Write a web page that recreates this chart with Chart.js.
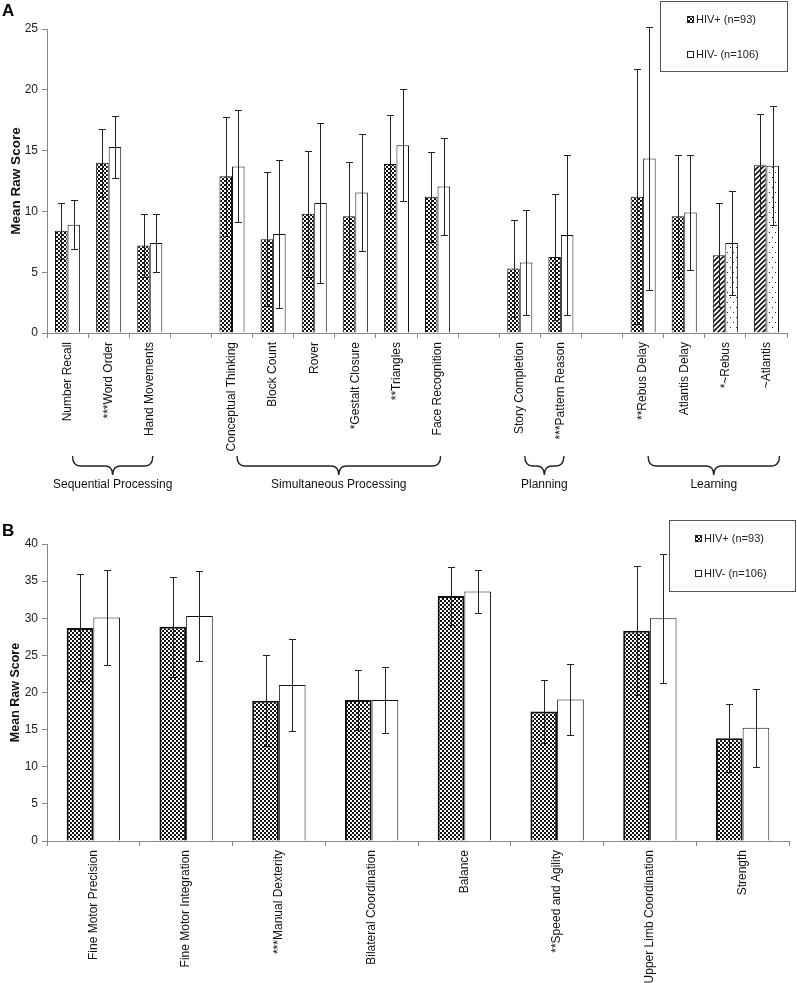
<!DOCTYPE html>
<html>
<head>
<meta charset="utf-8">
<script src="https://cdn.jsdelivr.net/npm/chart.js@4.4.0/dist/chart.umd.min.js"></script>
<style>
    html, body { margin: 0; padding: 0; background: #fff; }
    .panel { position: absolute; left: 0; width: 797px; }
    #wrap-a { top: 0; height: 500px; }
    #wrap-b { top: 500px; height: 483px; }
</style>
</head>
<body>
<div id="wrap-a" class="panel"><canvas id="chart-a" width="797" height="500"></canvas></div>
<div id="wrap-b" class="panel"><canvas id="chart-b" width="797" height="483"></canvas></div>
<script>
// ── Data: panel A (KABC subtests, empty labels are group gaps) ──
const catsA = ['Number Recall', '***Word Order', 'Hand Movements', '',
    'Conceptual Thinking', 'Block Count', 'Rover', '*Gestalt Closure', '**Triangles', 'Face Recognition', '',
    'Story Completion', '***Pattern Reason', '',
    '**Rebus Delay', 'Atlantis Delay', '*~Rebus', '~Atlantis'];
const posA   = [8.4, 14.0, 7.2, null, 12.9, 7.7, 9.8, 9.6, 13.9, 11.2, null, 5.3, 6.25, null, 11.2, 9.6, 6.4, 13.8];
const posSdA = [2.3, 2.8, 2.6, null, 4.9, 5.5, 5.2, 4.5, 4.0, 3.7, null, 4.0, 5.2, null, 10.5, 5.0, 4.25, 4.2];
const negA   = [8.9, 15.3, 7.4, null, 13.7, 8.15, 10.7, 11.55, 15.45, 12.05, null, 5.8, 8.05, null, 14.35, 9.9, 7.4, 13.75];
const negSdA = [2.0, 2.55, 2.4, null, 4.6, 6.1, 6.6, 4.8, 4.6, 3.95, null, 4.3, 6.55, null, 10.8, 4.75, 4.3, 4.9];
const ticksA = [0, 5, 10, 15, 20, 25];

const groupNames = ['Sequential Processing', 'Simultaneous Processing', 'Planning', 'Learning'];
const groupFirst = ['Number Recall', 'Conceptual Thinking', 'Story Completion', '**Rebus Delay'];
const groupLast  = ['Hand Movements', 'Face Recognition', '***Pattern Reason', '~Atlantis'];

// ── Data: panel B (BOT-2 subtests) ──
const catsB = ['Fine Motor Precision', 'Fine Motor Integration', '***Manual Dexterity', 'Bilateral Coordination',
    'Balance', '**Speed and Agility', 'Upper Limb Coordination', 'Strength'];
const posB   = [28.7, 28.85, 18.9, 19.0, 33.0, 17.45, 28.3, 13.85];
const posSdB = [7.2, 6.7, 6.1, 4.0, 3.9, 4.25, 8.7, 4.6];
const negB   = [30.1, 30.3, 21.0, 19.0, 33.6, 19.05, 30.0, 15.25];
const negSdB = [6.4, 6.1, 6.2, 4.4, 2.95, 4.8, 8.7, 5.25];
const ticksB = [0, 5, 10, 15, 20, 25, 30, 35, 40];

const seriesNames = ['HIV+ (n=93)', 'HIV- (n=106)'];

const FONT = "'Liberation Sans', Arial, sans-serif";

// ── Fill patterns ──
function tile(w, h, paint) {
    const c = document.createElement('canvas');
    c.width = w; c.height = h;
    const g = c.getContext('2d');
    g.fillStyle = '#fff';
    g.fillRect(0, 0, w, h);
    paint(g);
    return g.createPattern(c, 'repeat');
}
const checker = tile(4, 4, g => {
    g.fillStyle = '#111';
    g.fillRect(0, 0, 2, 2);
    g.fillRect(2, 2, 2, 2);
});
const hatch = tile(5, 5, g => {
    g.strokeStyle = '#111';
    g.lineWidth = 1.6;
    g.beginPath();
    g.moveTo(-1, 6); g.lineTo(6, -1);
    g.moveTo(-1, 1); g.lineTo(1, -1);
    g.moveTo(4, 6); g.lineTo(6, 4);
    g.stroke();
});
const dots = tile(6, 10, g => {
    g.fillStyle = '#222';
    g.fillRect(1, 2, 1, 1);
    g.fillRect(4, 7, 1, 1);
});

// ── Plugins ──
const errorBars = {
    id: 'errorBars',
    afterDatasetsDraw(chart, args, opts) {
        const ctx = chart.ctx;
        const y = chart.scales.y;
        ctx.save();
        ctx.strokeStyle = opts.color;
        ctx.lineWidth = 1;
        chart.data.datasets.forEach((ds, di) => {
            chart.getDatasetMeta(di).data.forEach((bar, i) => {
                const v = ds.data[i], e = ds.errors[i];
                if (v == null || e == null) return;
                const x = Math.round(bar.x) + 0.5;
                const yt = Math.round(y.getPixelForValue(v + e)) + 0.5;
                const yb = Math.round(y.getPixelForValue(v - e)) + 0.5;
                ctx.beginPath();
                ctx.moveTo(x, yt); ctx.lineTo(x, yb);
                ctx.moveTo(x - opts.cap, yt); ctx.lineTo(x + opts.cap, yt);
                ctx.moveTo(x - opts.cap, yb); ctx.lineTo(x + opts.cap, yb);
                ctx.stroke();
            });
        });
        ctx.restore();
    }
};

const boxLegend = {
    id: 'boxLegend',
    afterDraw(chart, args, o) {
        const ctx = chart.ctx;
        ctx.save();
        ctx.strokeStyle = '#555';
        ctx.lineWidth = 1;
        ctx.strokeRect(o.x + 0.5, o.y + 0.5, o.w, o.h);
        ctx.font = '11px ' + FONT;
        ctx.textBaseline = 'middle';
        chart.data.datasets.forEach((ds, i) => {
            const cy = o.y + o.rows[i];
            ctx.fillStyle = i === 0 ? checker : '#fff';
            ctx.fillRect(o.swatchX, cy - 3, 7, 7);
            ctx.strokeStyle = '#222';
            ctx.strokeRect(o.swatchX + 0.5, cy - 2.5, 6, 6);
            ctx.fillStyle = '#222';
            ctx.fillText(ds.label, o.swatchX + 9, cy + 1);
        });
        ctx.restore();
    }
};

const panelLetter = {
    id: 'panelLetter',
    afterDraw(chart, args, o) {
        const ctx = chart.ctx;
        ctx.save();
        ctx.font = 'bold 17px ' + FONT;
        ctx.fillStyle = '#000';
        ctx.textBaseline = 'alphabetic';
        ctx.fillText(o.text, 2, o.y);
        ctx.restore();
    }
};

const braces = {
    id: 'braces',
    afterDraw(chart, args, o) {
        if (!o.names) return;
        const ctx = chart.ctx;
        const x = chart.scales.x;
        ctx.save();
        ctx.strokeStyle = '#222';
        ctx.lineWidth = 1.4;
        ctx.font = '12px ' + FONT;
        ctx.fillStyle = '#111';
        ctx.textAlign = 'center';
        ctx.textBaseline = 'middle';
        o.names.forEach((name, i) => {
            const x1 = x.getPixelForValue(o.first[i]) + 5;
            const x2 = x.getPixelForValue(o.last[i]) + (i === o.names.length - 1 ? 13 : 3);
            const xm = (x1 + x2) / 2;
            const top = o.top, mid = o.top + 10, tip = o.top + 19, r = 8;
            ctx.beginPath();
            ctx.moveTo(x1, top);
            ctx.quadraticCurveTo(x1, mid, x1 + r, mid);
            ctx.lineTo(xm - r, mid);
            ctx.quadraticCurveTo(xm, mid, xm, tip);
            ctx.quadraticCurveTo(xm, mid, xm + r, mid);
            ctx.lineTo(x2 - r, mid);
            ctx.quadraticCurveTo(x2, mid, x2, top);
            ctx.stroke();
            ctx.fillText(name, xm, o.textY);
        });
        ctx.restore();
    }
};

// ── Chart builder ──
function buildChart(canvasId, cfg) {
    const hatchIdx = cfg.labels.map(l => l.includes('~'));
    return new Chart(document.getElementById(canvasId), {
        type: 'bar',
        data: {
            labels: cfg.labels,
            datasets: [{
                label: seriesNames[0],
                data: cfg.pos,
                errors: cfg.posSd,
                backgroundColor: hatchIdx.map(h => h ? hatch : checker),
                borderColor: '#111',
                borderWidth: cfg.posBorder,
            }, {
                label: seriesNames[1],
                data: cfg.neg,
                errors: cfg.negSd,
                backgroundColor: hatchIdx.map(h => h ? dots : '#fff'),
                borderColor: '#111',
                borderWidth: 1,
            }],
        },
        options: {
            responsive: false,
            animation: false,
            events: [],
            devicePixelRatio: 1,
            categoryPercentage: cfg.catPct,
            barPercentage: 1,
            layout: { padding: { top: cfg.padTop, right: cfg.padRight, left: 0, bottom: 0 } },
            plugins: {
                legend: { display: false },
                tooltip: { enabled: false },
                errorBars: { color: '#222', cap: 3.5 },
                boxLegend: cfg.legend,
                panelLetter: cfg.letter,
                braces: cfg.braces || {},
            },
            scales: {
                x: {
                    grid: { offset: true, drawOnChartArea: false, tickLength: 5, color: '#888' },
                    border: { color: '#888' },
                    ticks: { autoSkip: false, minRotation: 90, maxRotation: 90, padding: 4,
                        color: '#111', font: { family: FONT, size: 12 } },
                    afterFit: s => { s.height = cfg.xHeight; },
                },
                y: {
                    min: 0,
                    max: cfg.ticks[cfg.ticks.length - 1],
                    afterBuildTicks: s => { s.ticks = cfg.ticks.map(v => ({ value: v })); },
                    grid: { drawOnChartArea: false, tickLength: 5, color: '#888' },
                    border: { color: '#888' },
                    ticks: { padding: 4, color: '#222', font: { family: FONT, size: 12 } },
                    title: { display: true, text: 'Mean Raw Score', color: '#111',
                        font: { family: FONT, size: cfg.titleSize, weight: 'bold' }, padding: { top: 8, bottom: 0 } },
                    afterFit: s => { s.width = 47; },
                },
            },
        },
        plugins: [errorBars, boxLegend, panelLetter, braces],
    });
}

buildChart('chart-a', {
    labels: catsA, pos: posA, posSd: posSdA, neg: negA, negSd: negSdA, ticks: ticksA,
    posBorder: 1, catPct: 0.61, padTop: 29, padRight: 10, xHeight: 167, titleSize: 13.5,
    legend: { x: 660, y: 1, w: 127, h: 70, swatchX: 687, rows: [18, 53] },
    letter: { text: 'A', y: 16 },
    braces: { names: groupNames, first: groupFirst, last: groupLast, top: 456, textY: 485 },
});

buildChart('chart-b', {
    labels: catsB, pos: posB, posSd: posSdB, neg: negB, negSd: negSdB, ticks: ticksB,
    posBorder: 2, catPct: 0.575, padTop: 44, padRight: 8, xHeight: 142, titleSize: 12.5,
    legend: { x: 669, y: 20, w: 126, h: 71, swatchX: 695, rows: [18, 53] },
    letter: { text: 'B', y: 36 },
});
</script>
</body>
</html>
